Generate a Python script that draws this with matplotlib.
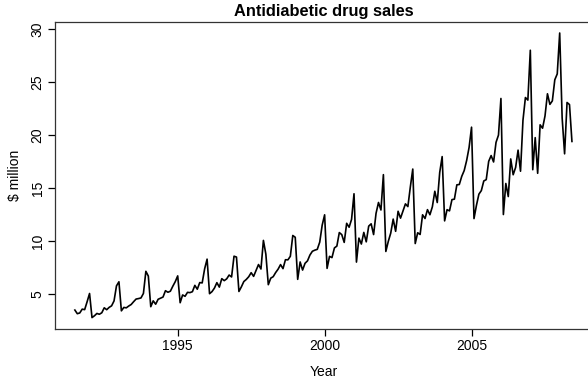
import numpy as np
import matplotlib.pyplot as plt

plt.rcParams['font.family'] = ['Liberation Sans', 'DejaVu Sans']

# monthly sales, July 1991 - June 2008
start = 1991 + 6 / 12
sales = [
    3.526591, 3.180891, 3.252221, 3.611003, 3.565869, 4.306371,
    5.088335, 2.814520, 2.985811, 3.204780, 3.127578, 3.270523, 3.737851, 3.558776, 3.777202, 3.924490, 4.386531, 5.810549,
    6.192068, 3.450857, 3.772307, 3.734303, 3.905399, 4.049687, 4.315566, 4.562185, 4.608662, 4.667851, 5.093841, 7.179962,
    6.731473, 3.841278, 4.394076, 4.075341, 4.540645, 4.645615, 4.752607, 5.350605, 5.204455, 5.301651, 5.773742, 6.204593,
    6.749484, 4.216067, 4.949349, 4.823045, 5.194754, 5.170787, 5.256742, 5.855277, 5.490729, 6.115293, 6.088473, 7.416598,
    8.329452, 5.069796, 5.262557, 5.597126, 6.110296, 5.689161, 6.486849, 6.300569, 6.467476, 6.828629, 6.649078, 8.606937,
    8.524471, 5.277918, 5.714303, 6.214529, 6.411929, 6.667716, 7.050831, 6.704919, 7.250988, 7.819733, 7.398101, 10.096233,
    8.798513, 5.918261, 6.534493, 6.675736, 7.064201, 7.383381, 7.813496, 7.431892, 8.275117, 8.260441, 8.596156, 10.558939,
    10.391416, 6.421535, 8.062619, 7.297739, 7.936916, 8.165323, 8.717420, 9.070964, 9.177113, 9.251887, 9.933136, 11.532974,
    12.511462, 7.457199, 8.591191, 8.474000, 9.386803, 9.560399, 10.834295, 10.643751, 9.908162, 11.710041, 11.340151, 12.079132,
    14.497580, 8.049756, 10.312819, 9.753540, 10.850967, 9.961588, 11.443266, 11.659239, 10.647060, 12.652134, 13.674466, 12.965735,
    16.300269, 9.053485, 10.002449, 10.788750, 12.106705, 10.954101, 12.844566, 12.196500, 12.854748, 13.542004, 13.287640, 15.134918,
    16.828350, 9.800215, 10.816994, 10.654223, 12.512323, 12.161210, 12.998046, 12.517276, 13.268658, 14.733622, 13.669382, 16.503966,
    18.003768, 11.938030, 12.997900, 12.882645, 13.943447, 13.989472, 15.339097, 15.370764, 16.142005, 16.685754, 17.636728, 18.869325,
    20.778723, 12.154552, 13.402392, 14.459239, 14.795102, 15.705248, 15.829550, 17.554701, 18.100864, 17.496668, 19.347265, 20.031291,
    23.486694, 12.536987, 15.467018, 14.233539, 17.783058, 16.291602, 16.980282, 18.612189, 16.623343, 21.430241, 23.575517, 23.334206,
    28.038383, 16.763869, 19.792754, 16.427305, 21.000742, 20.681002, 21.834890, 23.930204, 22.930357, 23.263340, 25.250030, 25.806090,
    29.665356, 21.654285, 18.264945, 23.107677, 22.912510, 19.431740,
]
year_ticks = [1995, 2000, 2005]
sales_ticks = [5, 10, 15, 20, 25, 30]

t = start + np.arange(len(sales)) / 12

fig = plt.figure(figsize=(5.88, 3.79), dpi=100)
ax = fig.add_axes([0.0935, 0.132, 0.913, 0.811])
ax.plot(t, sales, color='black', lw=1.2)

# R-style 4% padding on both axes
xr = t[-1] - t[0]
yr = max(sales) - min(sales)
ax.set_xlim(t[0] - 0.04 * xr, t[-1] + 0.04 * xr)
ax.set_ylim(min(sales) - 0.04 * yr, max(sales) + 0.04 * yr)

ax.set_xticks(year_ticks)
ax.set_yticks(sales_ticks)
ax.set_yticklabels([str(v) for v in sales_ticks], rotation=90, va='center')
ax.tick_params(direction='out', length=5, width=0.9, labelsize=10, colors='black', pad=2.5)
for s in ax.spines.values():
    s.set_linewidth(0.9)
    s.set_color('#333333')

ax.set_title('Antidiabetic drug sales', fontsize=11.8, fontweight='bold', pad=4)
ax.set_xlabel('Year', fontsize=10, labelpad=8.5)
ax.set_ylabel('$ million', fontsize=10, labelpad=6)

fig.savefig('out.png', dpi=100)
